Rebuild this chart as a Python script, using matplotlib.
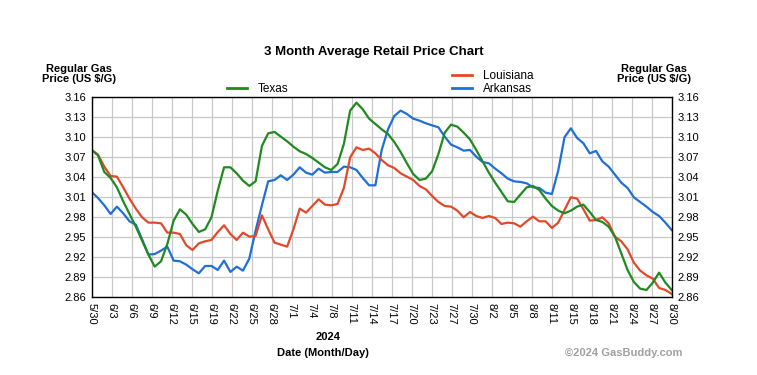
import numpy as np
import matplotlib
matplotlib.use('Agg')
import matplotlib.pyplot as plt
from matplotlib.lines import Line2D

plt.rcParams['font.family'] = ['Liberation Sans', 'DejaVu Sans']

# daily averages, 5/30 .. 8/30 (93 days)
texas = [3.081, 3.073, 3.048, 3.039, 3.025, 3.004, 2.985, 2.966, 2.945, 2.924,
         2.906, 2.914, 2.940, 2.975, 2.992, 2.984, 2.970, 2.958, 2.962, 2.980,
         3.020, 3.055, 3.055, 3.046, 3.035, 3.027, 3.034, 3.087, 3.106, 3.108,
         3.101, 3.094, 3.086, 3.079, 3.075, 3.069, 3.062, 3.055, 3.051, 3.060,
         3.090, 3.140, 3.152, 3.142, 3.128, 3.120, 3.112, 3.105, 3.093, 3.078,
         3.061, 3.045, 3.036, 3.038, 3.049, 3.075, 3.107, 3.119, 3.116, 3.107,
         3.097, 3.081, 3.064, 3.047, 3.032, 3.018, 3.004, 3.003, 3.014, 3.025,
         3.027, 3.021, 3.008, 2.997, 2.990, 2.986, 2.990, 2.996, 2.999, 2.988,
         2.976, 2.973, 2.966, 2.951, 2.926, 2.901, 2.883, 2.873, 2.871, 2.882,
         2.897, 2.882, 2.871]
louisiana = [3.081, 3.074, 3.056, 3.042, 3.041, 3.025, 3.008, 2.993, 2.980, 2.972,
             2.972, 2.971, 2.957, 2.957, 2.955, 2.938, 2.931, 2.941, 2.944, 2.946,
             2.958, 2.968, 2.955, 2.946, 2.957, 2.951, 2.952, 2.983, 2.962, 2.942,
             2.939, 2.936, 2.962, 2.993, 2.987, 2.997, 3.007, 2.999, 2.998, 3.000,
             3.024, 3.070, 3.085, 3.081, 3.083, 3.076, 3.066, 3.058, 3.054, 3.046,
             3.041, 3.036, 3.027, 3.022, 3.012, 3.003, 2.997, 2.996, 2.990, 2.980,
             2.988, 2.982, 2.979, 2.982, 2.979, 2.970, 2.972, 2.971, 2.966, 2.974,
             2.981, 2.974, 2.974, 2.964, 2.972, 2.991, 3.010, 3.008, 2.992, 2.975,
             2.976, 2.980, 2.971, 2.951, 2.944, 2.932, 2.912, 2.900, 2.893, 2.888,
             2.874, 2.871, 2.865]
arkansas = [3.018, 3.009, 2.998, 2.985, 2.996, 2.986, 2.974, 2.969, 2.947, 2.924,
            2.925, 2.930, 2.936, 2.915, 2.914, 2.909, 2.902, 2.896, 2.907, 2.907,
            2.901, 2.915, 2.898, 2.906, 2.900, 2.918, 2.960, 2.998, 3.034, 3.036,
            3.043, 3.036, 3.044, 3.055, 3.047, 3.044, 3.053, 3.047, 3.048, 3.048,
            3.056, 3.055, 3.051, 3.039, 3.028, 3.028, 3.081, 3.112, 3.132, 3.140,
            3.135, 3.128, 3.125, 3.121, 3.118, 3.115, 3.101, 3.089, 3.085, 3.080,
            3.081, 3.071, 3.063, 3.061, 3.053, 3.046, 3.038, 3.034, 3.033, 3.031,
            3.025, 3.024, 3.017, 3.015, 3.050, 3.100, 3.1135, 3.099, 3.091, 3.076,
            3.0795, 3.064, 3.056, 3.044, 3.032, 3.024, 3.010, 3.003, 2.996, 2.988,
            2.982, 2.972, 2.961]

date_labels = ['5/30', '6/3', '6/6', '6/9', '6/12', '6/15', '6/19', '6/22', '6/25', '6/28',
               '7/1', '7/4', '7/8', '7/11', '7/14', '7/17', '7/20', '7/23', '7/27', '7/30',
               '8/2', '8/5', '8/8', '8/11', '8/15', '8/18', '8/21', '8/24', '8/27', '8/30']
price_ticks = [2.86, 2.89, 2.92, 2.95, 2.98, 3.01, 3.04, 3.07, 3.10, 3.13, 3.16]

days = np.arange(len(texas))
green = '#1f8a1f'
red = '#e2492b'
blue = '#1f6fd6'

fig = plt.figure(figsize=(7.57, 3.75), dpi=100)
ax = fig.add_axes([0.1211, 0.2072, 0.7662, 0.5333])

ax.plot(days, arkansas, color=blue, lw=1.6)
ax.plot(days, louisiana, color=red, lw=1.6)
ax.plot(days, texas, color=green, lw=1.6)

ax.set_xlim(0, days[-1])
ax.set_ylim(price_ticks[0], price_ticks[-1])
ax.set_xticks(np.linspace(0, days[-1], len(date_labels)))
ax.set_xticklabels(date_labels, rotation=270, fontsize=8)
ax.set_yticks(price_ticks)
ax.set_yticklabels([f'{p:.2f}' for p in price_ticks], fontsize=8)
ax.tick_params(length=0, pad=4, labelright=True)
ax.grid(color='#c8c8c8', lw=0.9)
ax.set_axisbelow(True)
for sp in ax.spines.values():
    sp.set_linewidth(1)

fig.text(0.494, 0.862, '3 Month Average Retail Price Chart', ha='center', va='center',
         fontsize=9.5, fontweight='bold')
fig.text(0.104, 0.803, 'Regular Gas\nPrice (US $/G)', ha='center', va='center',
         fontsize=8, fontweight='bold', linespacing=1.05)
fig.text(0.864, 0.803, 'Regular Gas\nPrice (US $/G)', ha='center', va='center',
         fontsize=8, fontweight='bold', linespacing=1.05)
fig.text(0.434, 0.102, '2024', ha='center', va='center', fontsize=8, fontweight='bold')
fig.text(0.427, 0.059, 'Date (Month/Day)', ha='center', va='center', fontsize=8,
         fontweight='bold')
fig.text(0.902, 0.059, '\u00a92024 GasBuddy.com', ha='right', va='center', fontsize=8,
         fontweight='bold', color='#a0a0a0')

leg_kw = dict(frameon=False, fontsize=8.5, handlelength=1.75, handletextpad=0.9,
              borderpad=0, borderaxespad=0, labelspacing=0.1, loc='center left')
fig.legend([Line2D([], [], color=green, lw=2)], ['Texas'],
           bbox_to_anchor=(0.2995, 0.762), **leg_kw)
fig.legend([Line2D([], [], color=red, lw=2), Line2D([], [], color=blue, lw=2)],
           ['Louisiana', 'Arkansas'], bbox_to_anchor=(0.5967, 0.779), **leg_kw)

fig.savefig('out.png', dpi=100)
